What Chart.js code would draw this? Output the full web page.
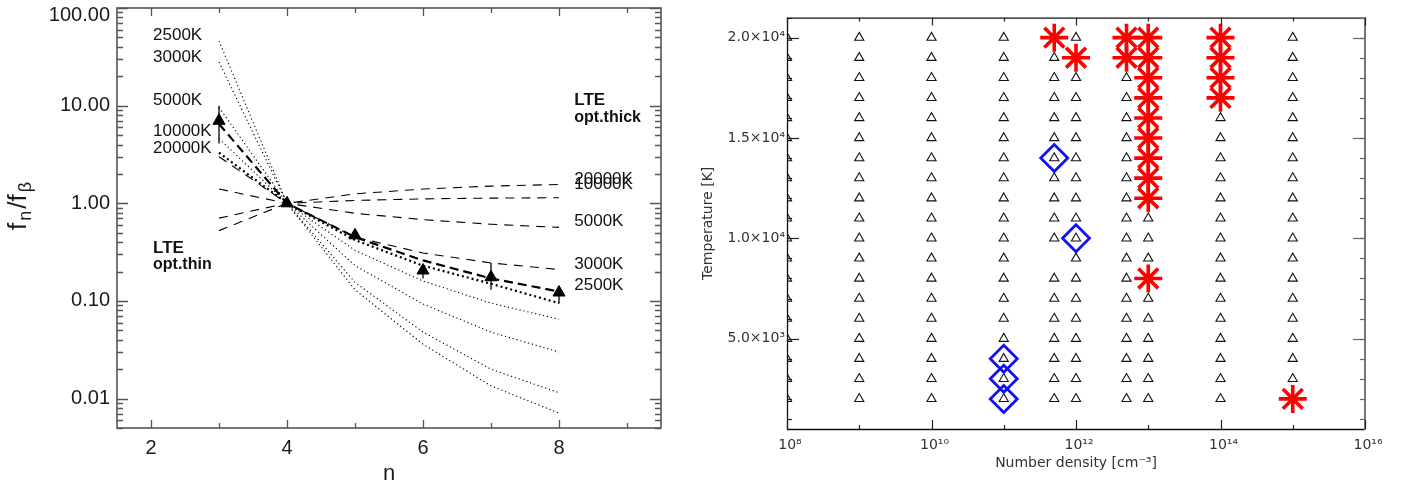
<!DOCTYPE html>
<html><head><meta charset="utf-8">
<script src="https://cdn.jsdelivr.net/npm/chart.js@4.4.0/dist/chart.umd.min.js"></script>
<style>
html,body{margin:0;padding:0;background:#fff;overflow:hidden}
#wrapL{position:absolute;left:0;top:0;width:690px;height:490px}
#wrapR{position:absolute;left:690px;top:0;width:715px;height:490px}
canvas{display:block}
</style></head><body>
<div id="wrapL"><canvas id="cL" width="690" height="490"></canvas></div>
<div id="wrapR"><canvas id="cR" width="715" height="490"></canvas></div>
<script>
// ---------------- Left panel data (Balmer decrement f_n / f_beta) ----------------
const nLevels = [3, 4, 5, 6, 7, 8];
// LTE optically thin (dotted)
const thin2500  = [46.0, 1, 0.13, 0.036, 0.0135, 0.0071];
const thin3000  = [28.0, 1, 0.155, 0.048, 0.020, 0.0115];
const thin5000  = [9.6, 1, 0.23, 0.093, 0.048, 0.030];
const thin10000 = [4.6, 1, 0.33, 0.16, 0.095, 0.065];
const thin20000 = [3.3, 1, 0.42, 0.23, 0.15, 0.095];   // drawn thick
// LTE optically thick (dashed)
const thick2500  = [6.5, 1, 0.45, 0.26, 0.17, 0.125];  // drawn thick
const thick3000  = [3.0, 1, 0.45, 0.31, 0.245, 0.21];
const thick5000  = [1.40, 1, 0.79, 0.68, 0.61, 0.567];
const thick10000 = [0.705, 1, 1.07, 1.11, 1.13, 1.14];
const thick20000 = [0.525, 1, 1.25, 1.40, 1.50, 1.56];
// observed ratios with error bars
const obsRatio = [7.0, 1.0, 0.47, 0.205, 0.175, 0.122];
const obsLow   = [4.1, 1.0, 0.43, 0.17, 0.13, 0.094];
const obsHigh  = [10.0, 1.0, 0.52, 0.23, 0.245, 0.137];
// axis ticks
const leftXTicks = [2, 4, 6, 8];
const leftXMinor = [3, 5, 7, 9];
const leftYTicks = [0.01, 0.1, 1, 10, 100];
const leftYLabels = ['0.01', '0.10', '1.00', '10.00', '100.00'];
// curve labels [text, value]
const thinLabelText = ['2500K', '3000K', '5000K', '10000K', '20000K'];
const thinLabelY    = [52, 31.5, 11.3, 5.5, 3.7];
const thickLabelText = ['20000K', '10000K', '5000K', '3000K', '2500K'];
const thickLabelY    = [1.78, 1.55, 0.648, 0.238, 0.146];

// ---------------- Right panel data (model grid) ----------------
const densityGrid = [1e8, 1e9, 1e10, 1e11, 5e11, 1e12, 5e12, 1e13, 1e14, 1e15];
const temperatureGrid = [2000, 3000, 4000, 5000, 6000, 7000, 8000, 9000, 10000, 11000,
  12000, 13000, 14000, 15000, 16000, 17000, 18000, 19000, 20000];
const missingDensity = [5e11];
const missingTemp = [9000];
const starDensity = [5e11, 1e12, 5e12, 5e12, 1e13, 1e13, 1e13, 1e13, 1e13, 1e13, 1e13, 1e13, 1e13, 1e13,
  1e14, 1e14, 1e14, 1e14, 1e15];
const starTemp = [20000, 19000, 20000, 19000, 20000, 19000, 18000, 17000, 16000, 15000, 14000, 13000, 12000, 8000,
  20000, 19000, 18000, 17000, 2000];
const diamondDensity = [5e11, 1e12, 1e11, 1e11, 1e11];
const diamondTemp = [14000, 10000, 4000, 3000, 2000];
const rightXTicks = [1e8, 1e10, 1e12, 1e14, 1e16];
const rightXLabels = ['10⁸', '10¹⁰', '10¹²', '10¹⁴', '10¹⁶'];
const rightXMinor = [1e9, 1e11, 1e13, 1e15];
const rightYTicks = [5000, 10000, 15000, 20000];
const rightYLabels = ['5.0×10³', '1.0×10⁴', '1.5×10⁴', '2.0×10⁴'];

// ---------------- helpers ----------------
const pts = (arr) => nLevels.map((n, i) => ({x: n, y: arr[i]}));
function lineDS(arr, width, dash) {
  return {data: pts(arr), showLine: true, pointRadius: 0, borderColor: '#000',
    borderWidth: width, borderDash: dash, tension: 0, fill: false};
}
const LF = '"Liberation Sans", Arial, sans-serif';

const leftPlugin = {
  id: 'leftAxes',
  afterDatasetsDraw(chart) {
    const {ctx, chartArea: a, scales: {x, y}} = chart;
    ctx.save();
    // error bars
    ctx.strokeStyle = '#000'; ctx.lineWidth = 1.3;
    nLevels.forEach((n, i) => {
      const px = x.getPixelForValue(n);
      ctx.beginPath();
      ctx.moveTo(px, y.getPixelForValue(obsLow[i]));
      ctx.lineTo(px, y.getPixelForValue(obsHigh[i]));
      ctx.stroke();
    });
    // frame
    ctx.strokeStyle = '#555'; ctx.lineWidth = 1.6;
    ctx.strokeRect(a.left, a.top, a.right - a.left, a.bottom - a.top);
    ctx.lineWidth = 1.3;
    const yTick = (v, len) => {
      const py = Math.round(y.getPixelForValue(v)) + 0.5;
      ctx.beginPath();
      ctx.moveTo(a.left, py); ctx.lineTo(a.left + len, py);
      ctx.moveTo(a.right, py); ctx.lineTo(a.right - len, py);
      ctx.stroke();
    };
    const xTick = (v, len) => {
      const px = Math.round(x.getPixelForValue(v)) + 0.5;
      ctx.beginPath();
      ctx.moveTo(px, a.bottom); ctx.lineTo(px, a.bottom - len);
      ctx.moveTo(px, a.top); ctx.lineTo(px, a.top + len);
      ctx.stroke();
    };
    for (let e = -3; e <= 2; e++) for (let m = 2; m <= 9; m++) {
      const v = m * Math.pow(10, e);
      if (v >= 0.005 && v < 100) yTick(v, 6);
    }
    leftYTicks.forEach(v => yTick(v, 11));
    leftXTicks.forEach(v => xTick(v, 8));
    leftXMinor.forEach(v => xTick(v, 5));
    // tick labels
    ctx.fillStyle = '#1a1a1a';
    ctx.font = '20px ' + LF;
    ctx.textAlign = 'right'; ctx.textBaseline = 'middle';
    leftYTicks.forEach((v, i) => {
      const py = Math.max(y.getPixelForValue(v), a.top + 7.5);
      ctx.fillText(leftYLabels[i], a.left - 7, py);
    });
    ctx.textAlign = 'center';
    leftXTicks.forEach(v => ctx.fillText(String(v), x.getPixelForValue(v), a.bottom + 20));
    // x title
    ctx.font = '22px ' + LF;
    ctx.fillText('n', (a.left + a.right) / 2, a.bottom + 46);
    // y title f_n/f_beta
    ctx.save();
    ctx.translate(26, 205);
    ctx.rotate(-Math.PI / 2);
    ctx.textAlign = 'left'; ctx.textBaseline = 'alphabetic';
    const parts = [['f', 26, 0], ['n', 18, 5], ['/f', 26, 0], ['β', 18, 5]];
    let total = 0;
    parts.forEach(p => { ctx.font = p[1] + 'px ' + LF; total += ctx.measureText(p[0]).width + 2; });
    let cx = -total / 2;
    parts.forEach(p => { ctx.font = p[1] + 'px ' + LF; ctx.fillText(p[0], cx, p[2]); cx += ctx.measureText(p[0]).width + 2; });
    ctx.restore();
    // curve labels
    ctx.fillStyle = '#111';
    ctx.textAlign = 'left'; ctx.textBaseline = 'middle';
    ctx.font = '17px ' + LF;
    const xl = x.getPixelForValue(2.03), xr = x.getPixelForValue(8.225);
    thinLabelText.forEach((t, i) => ctx.fillText(t, xl, y.getPixelForValue(thinLabelY[i])));
    thickLabelText.forEach((t, i) => ctx.fillText(t, xr, y.getPixelForValue(thickLabelY[i])));
    ctx.font = 'bold 17px ' + LF;
    ctx.fillText('LTE', xr, y.getPixelForValue(11.4));
    ctx.fillText('LTE', xl, y.getPixelForValue(0.345));
    ctx.font = 'bold 16px ' + LF;
    ctx.fillText('opt.thick', xr, y.getPixelForValue(7.6));
    ctx.fillText('opt.thin', xl, y.getPixelForValue(0.235));
    ctx.restore();
  }
};

new Chart(document.getElementById('cL'), {
  type: 'scatter',
  data: {datasets: [
    {data: pts(obsRatio), pointStyle: 'triangle', pointRadius: 7, backgroundColor: '#000', borderColor: '#000', borderWidth: 1, showLine: false},
    lineDS(thick2500, 2.2, [9, 5]),
    lineDS(thin20000, 2.2, [2, 3]),
    lineDS(thin2500, 1.1, [1.2, 2.8]),
    lineDS(thin3000, 1.1, [1.2, 2.8]),
    lineDS(thin5000, 1.1, [1.2, 2.8]),
    lineDS(thin10000, 1.1, [1.2, 2.8]),
    lineDS(thick3000, 1.1, [9, 7]),
    lineDS(thick5000, 1.1, [9, 7]),
    lineDS(thick10000, 1.1, [9, 7]),
    lineDS(thick20000, 1.1, [9, 7])
  ]},
  options: {
    responsive: false, animation: false, events: [], devicePixelRatio: 1,
    layout: {padding: {left: 117, top: 5, right: 29, bottom: 62}},
    plugins: {legend: {display: false}, tooltip: {enabled: false}},
    scales: {
      x: {type: 'linear', min: 1.5, max: 9.5, display: false},
      y: {type: 'logarithmic', min: 0.005, max: 100, display: false}
    }
  },
  plugins: [leftPlugin]
});

// ---------------- Right panel ----------------
const starPts = starDensity.map((d, i) => ({x: d, y: starTemp[i]}));
const diamondPts = diamondDensity.map((d, i) => ({x: d, y: diamondTemp[i]}));
const triPts = [];
densityGrid.forEach(d => temperatureGrid.forEach(t => {
  const missing = missingDensity.some((md, k) => md === d && missingTemp[k] === t);
  const covered = starPts.some(p => p.x === d && p.y === t);
  if (!missing && !covered) triPts.push({x: d, y: t});
}));

const DF = '"DejaVu Sans", sans-serif';
const rightPlugin = {
  id: 'rightAxes',
  afterDatasetsDraw(chart) {
    const {ctx, chartArea: a, scales: {x, y}} = chart;
    ctx.save();
    ctx.lineWidth = 1.3;
    ctx.strokeStyle = '#111';
    ctx.beginPath();
    ctx.moveTo(a.right, a.top + 0.5); ctx.lineTo(a.left + 0.5, a.top + 0.5);
    ctx.lineTo(a.left + 0.5, a.bottom + 0.5); ctx.lineTo(a.right, a.bottom + 0.5);
    ctx.stroke();
    ctx.strokeStyle = '#777'; ctx.lineWidth = 2;
    ctx.beginPath(); ctx.moveTo(a.right, a.top); ctx.lineTo(a.right, a.bottom + 1); ctx.stroke();
    ctx.lineWidth = 1.2;
    const xTick = (v, lb, lt) => {
      const px = Math.round(x.getPixelForValue(v)) + 0.5;
      ctx.strokeStyle = '#222';
      ctx.beginPath();
      ctx.moveTo(px, a.bottom); ctx.lineTo(px, a.bottom - lb);
      ctx.moveTo(px, a.top); ctx.lineTo(px, a.top + lt);
      ctx.stroke();
    };
    const yTick = (v, len) => {
      const py = Math.round(y.getPixelForValue(v)) + 0.5;
      ctx.strokeStyle = '#222';
      ctx.beginPath(); ctx.moveTo(a.left, py); ctx.lineTo(a.left + len, py); ctx.stroke();
      ctx.strokeStyle = '#666';
      ctx.beginPath(); ctx.moveTo(a.right, py); ctx.lineTo(a.right - len, py); ctx.stroke();
    };
    rightXTicks.forEach(v => xTick(v, 9, 8));
    rightXMinor.forEach(v => xTick(v, 4, 4));
    for (let t = 1000; t <= 21000; t += 1000) yTick(t, 5);
    rightYTicks.forEach(v => yTick(v, 12));
    // labels
    ctx.fillStyle = '#333';
    ctx.font = '14px ' + DF;
    ctx.textAlign = 'right'; ctx.textBaseline = 'middle';
    rightYTicks.forEach((v, i) => ctx.fillText(rightYLabels[i], a.left - 2, y.getPixelForValue(v)));
    ctx.textAlign = 'center';
    rightXTicks.forEach((v, i) => ctx.fillText(rightXLabels[i], x.getPixelForValue(v) + 3, a.bottom + 16));
    ctx.fillText('Number density [cm⁻³]', (a.left + a.right) / 2, a.bottom + 34);
    ctx.save();
    ctx.translate(a.left - 79, (a.top + a.bottom) / 2);
    ctx.rotate(-Math.PI / 2);
    ctx.fillText('Temperature [K]', 0, 0);
    ctx.restore();
    ctx.restore();
  }
};

new Chart(document.getElementById('cR'), {
  type: 'scatter',
  data: {datasets: [
    {data: starPts, pointStyle: 'star', pointRadius: 14, borderColor: '#ff0000', borderWidth: 3.6, backgroundColor: 'rgba(0,0,0,0)', clip: false},
    {data: diamondPts, pointStyle: 'rectRot', pointRadius: 13.5, borderColor: '#1010f0', borderWidth: 2.8, backgroundColor: 'rgba(0,0,0,0)', clip: false},
    {data: triPts, pointStyle: 'triangle', pointRadius: 5.3, borderColor: '#111', borderWidth: 1.1, backgroundColor: 'rgba(0,0,0,0)', clip: 0}
  ]},
  options: {
    responsive: false, animation: false, events: [], devicePixelRatio: 1,
    layout: {padding: {left: 97, top: 17, right: 40, bottom: 61}},
    plugins: {legend: {display: false}, tooltip: {enabled: false}},
    scales: {
      x: {type: 'logarithmic', min: 1e8, max: 1e16, display: false},
      y: {type: 'linear', min: 500, max: 21000, display: false}
    }
  },
  plugins: [rightPlugin]
});
</script>
</body></html>
